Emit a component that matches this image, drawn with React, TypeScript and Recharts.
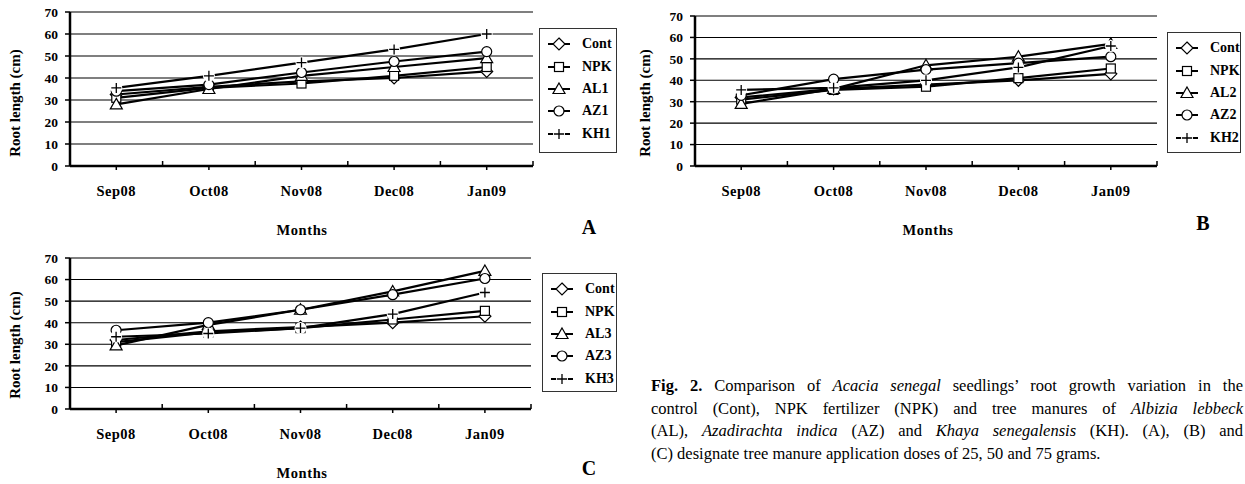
import React from "react";
import { CartesianGrid, Legend, Line, LineChart, XAxis, YAxis } from "recharts";

const months = ["Sep08", "Oct08", "Nov08", "Dec08", "Jan09"];
const yTicks = [0, 10, 20, 30, 40, 50, 60, 70];

// (A) 25 g
const namesA = ["Cont", "NPK", "AL1", "AZ1", "KH1"];
const contA = [32.5, 36, 38.5, 40, 43];
const npkA = [31, 35.5, 37.5, 41, 45];
const al1 = [28, 35, 41, 45, 49];
const az1 = [34, 37, 42.5, 47.5, 52];
const kh1 = [35.5, 41, 47, 53, 60];

// (B) 50 g
const namesB = ["Cont", "NPK", "AL2", "AZ2", "KH2"];
const contB = [32, 36, 38, 40, 43];
const npkB = [31, 35.5, 37, 41, 45.5];
const al2 = [29, 36, 47, 51, 57];
const az2 = [33, 40.5, 45, 48, 51];
const kh2 = [35.5, 36.5, 40, 46, 56];

// (C) 75 g
const namesC = ["Cont", "NPK", "AL3", "AZ3", "KH3"];
const contC = [32, 36, 38, 40, 43];
const npkC = [31, 35.5, 37.5, 41.5, 45.5];
const al3 = [29.5, 39, 46, 54.5, 64];
const az3 = [36.5, 40, 46, 53, 60.5];
const kh3 = [33.5, 35, 37.5, 44, 54];

const markerKinds = ["diamond", "square", "triangle", "circle", "plus"];

const serif = "'Liberation Serif', 'Times New Roman', serif";

function Marker({ kind, cx, cy }: { kind: string; cx: number; cy: number }) {
  const st = { fill: "#fff", stroke: "#000", strokeWidth: 1.2 };
  switch (kind) {
    case "diamond":
      return <path d={`M${cx},${cy - 6}L${cx + 6},${cy}L${cx},${cy + 6}L${cx - 6},${cy}Z`} {...st} />;
    case "square":
      return <rect x={cx - 4.5} y={cy - 4.5} width={9} height={9} {...st} />;
    case "triangle":
      return <path d={`M${cx},${cy - 6}L${cx + 6},${cy + 4.5}L${cx - 6},${cy + 4.5}Z`} {...st} />;
    case "circle":
      return <circle cx={cx} cy={cy} r={5} {...st} />;
    default:
      return (
        <g>
          <circle cx={cx} cy={cy} r={6} fill="#fff" />
          <path d={`M${cx - 5},${cy}H${cx + 5}M${cx},${cy - 5}V${cy + 5}`} stroke="#000" strokeWidth={1.3} />
        </g>
      );
  }
}

function MonthTick(props: any) {
  const { x, y, payload } = props;
  const half = payload.offset ?? 0;
  return (
    <g>
      <line x1={x} x2={x} y1={y} y2={y + 4} stroke="#000" strokeWidth={1.5} />
      {payload.index > 0 && (
        <line x1={x - half} x2={x - half} y1={y} y2={y - 5} stroke="#000" strokeWidth={1.5} />
      )}
      {payload.index === months.length - 1 && (
        <line x1={x + half} x2={x + half} y1={y} y2={y - 5} stroke="#000" strokeWidth={1.5} />
      )}
      <text
        x={x}
        y={y + 30}
        textAnchor="middle"
        fontFamily={serif}
        fontWeight={700}
        fontSize={14.5}
        letterSpacing={0.5}
        fill="#000"
      >
        {payload.value}
      </text>
    </g>
  );
}

// the legend follows the series order, not the alphabetical payload order
function LegendBox({ names }: { names: string[] }) {
  return (
    <div
      style={{
        width: "100%",
        height: "100%",
        boxSizing: "border-box",
        border: "1.5px solid #333",
        background: "#fff",
        paddingTop: 4,
      }}
    >
      {names.map((n, i) => (
        <div key={n} style={{ display: "flex", alignItems: "center", height: 22.4 }}>
          <svg width={42} height={16} style={{ display: "block" }}>
            <line x1={8} x2={30} y1={8} y2={8} stroke="#000" strokeWidth={2} />
            <Marker kind={markerKinds[i]} cx={19} cy={8} />
          </svg>
          <span style={{ fontFamily: serif, fontWeight: 700, fontSize: 14, color: "#000" }}>{n}</span>
        </div>
      ))}
    </div>
  );
}

type PanelProps = {
  left: number;
  top: number;
  width: number;
  height: number;
  margin: { top: number; right: number; bottom: number; left: number };
  names: string[];
  series: number[][];
  legendBox: { left: number; top: number; width: number; height: number };
  yTitle: [number, number];
  xTitle: [number, number];
  letter: string;
  letterPos: [number, number];
};

function Panel(p: PanelProps) {
  const data = months.map((m, i) => {
    const row: Record<string, string | number> = { month: m };
    p.names.forEach((n, k) => {
      row[n] = p.series[k][i];
    });
    return row;
  });

  return (
    <div style={{ position: "absolute", left: p.left, top: p.top, width: p.width, height: p.height }}>
      <LineChart width={p.width} height={p.height} data={data} margin={p.margin}>
        <CartesianGrid vertical={false} stroke="#000" strokeWidth={1.1} />
        <XAxis
          dataKey="month"
          scale="band"
          height={30}
          axisLine={{ stroke: "#000", strokeWidth: 2.5 }}
          tickLine={false}
          tickSize={0}
          tickMargin={0}
          interval={0}
          tick={<MonthTick />}
          label={() => (
            <text
              x={p.xTitle[0]}
              y={p.xTitle[1]}
              textAnchor="middle"
              dominantBaseline="central"
              fontFamily={serif}
              fontWeight={700}
              fontSize={14.5}
              letterSpacing={0.6}
              fill="#000"
            >
              Months
            </text>
          )}
        />
        <YAxis
          width={60}
          domain={[0, 70]}
          ticks={yTicks}
          interval={0}
          axisLine={{ stroke: "#000", strokeWidth: 2.5 }}
          tickLine={{ stroke: "#000", strokeWidth: 1.5 }}
          tickSize={5}
          tickMargin={7}
          tick={{ fontFamily: serif, fontWeight: 700, fontSize: 13.5, fill: "#000" }}
          label={() => (
            <text
              x={p.yTitle[0]}
              y={p.yTitle[1]}
              textAnchor="middle"
              dominantBaseline="central"
              transform={`rotate(-90, ${p.yTitle[0]}, ${p.yTitle[1]})`}
              fontFamily={serif}
              fontWeight={700}
              fontSize={15}
              fill="#000"
            >
              Root length (cm)
            </text>
          )}
        />
        <Legend
          layout="horizontal"
          verticalAlign="middle"
          align="center"
          wrapperStyle={{
            left: p.legendBox.left,
            top: p.legendBox.top,
            width: p.legendBox.width,
            height: p.legendBox.height,
          }}
          content={<LegendBox names={p.names} />}
        />
        {p.names.map((n, k) => (
          <Line
            key={n}
            type="linear"
            dataKey={n}
            name={n}
            stroke="#000"
            strokeWidth={2.2}
            activeDot={false}
            isAnimationActive={false}
            dot={(d: any) => <Marker key={`${n}-${d.index}`} kind={markerKinds[k]} cx={d.cx} cy={d.cy} />}
          />
        ))}
      </LineChart>
      <span
        style={{
          position: "absolute",
          left: p.letterPos[0],
          top: p.letterPos[1],
          transform: "translate(-50%, -50%)",
          fontFamily: serif,
          fontWeight: 700,
          fontSize: 20,
          color: "#000",
        }}
      >
        {p.letter}
      </span>
    </div>
  );
}

const capLine = { textAlign: "justify" as const, textAlignLast: "justify" as const, whiteSpace: "nowrap" as const };

export default function App() {
  return (
    <div style={{ position: "absolute", left: 0, top: 0, width: 1245, height: 484, background: "#fff" }}>
      <Panel
        left={0}
        top={0}
        width={620}
        height={240}
        margin={{ top: 12, right: 87, bottom: 44, left: 10 }}
        names={namesA}
        series={[contA, npkA, al1, az1, kh1]}
        legendBox={{ left: 539, top: 28, width: 78, height: 125 }}
        yTitle={[15, 103]}
        xTitle={[302, 230]}
        letter="A"
        letterPos={[589, 227]}
      />
      <Panel
        left={630}
        top={0}
        width={615}
        height={240}
        margin={{ top: 16, right: 88, bottom: 44, left: 5 }}
        names={namesB}
        series={[contB, npkB, al2, az2, kh2]}
        legendBox={{ left: 537, top: 32, width: 74, height: 121 }}
        yTitle={[15, 103]}
        xTitle={[298, 230]}
        letter="B"
        letterPos={[573, 223]}
      />
      <Panel
        left={0}
        top={240}
        width={620}
        height={244}
        margin={{ top: 18, right: 89, bottom: 45, left: 10 }}
        names={namesC}
        series={[contC, npkC, al3, az3, kh3]}
        legendBox={{ left: 542, top: 33, width: 75, height: 119 }}
        yTitle={[15, 105]}
        xTitle={[302, 233]}
        letter="C"
        letterPos={[589, 228]}
      />
      <div
        style={{
          position: "absolute",
          left: 651,
          top: 375,
          width: 592,
          fontFamily: serif,
          fontSize: 16.5,
          lineHeight: "22.5px",
          color: "#000",
        }}
      >
        <div style={capLine}>
          <b>Fig. 2.</b> Comparison of <i>Acacia senegal</i> seedlings’ root growth variation in the
        </div>
        <div style={capLine}>
          control (Cont), NPK fertilizer (NPK) and tree manures of <i>Albizia lebbeck</i>
        </div>
        <div style={capLine}>
          (AL), <i>Azadirachta indica</i> (AZ) and <i>Khaya senegalensis</i> (KH). (A), (B) and
        </div>
        <div style={{ whiteSpace: "nowrap" }}>(C) designate tree manure application doses of 25, 50 and 75 grams.</div>
      </div>
    </div>
  );
}
